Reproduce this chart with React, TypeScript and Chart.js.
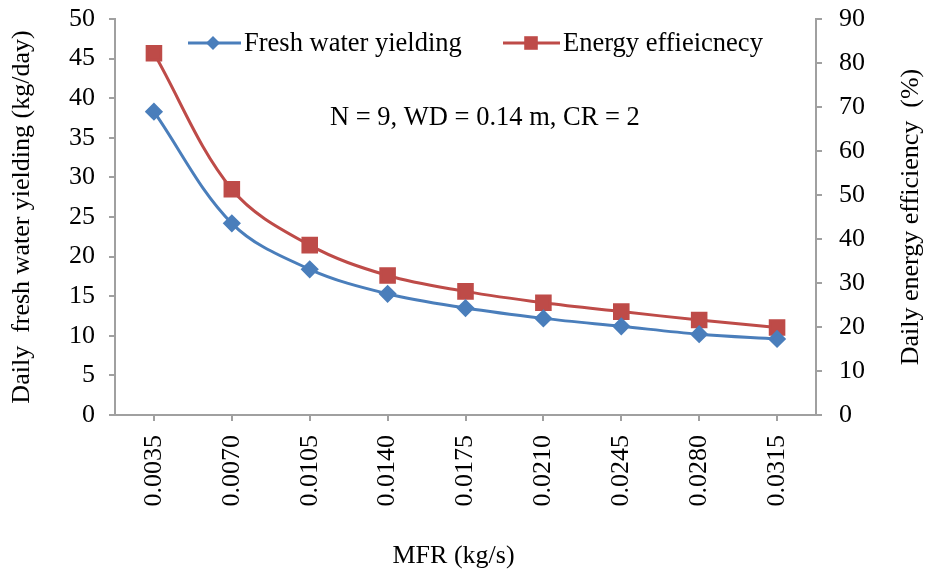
import React, { useEffect, useRef } from "react";
import { Chart, registerables } from "chart.js";

Chart.register(...registerables);

const categories = ["0.0035", "0.0070", "0.0105", "0.0140", "0.0175", "0.0210", "0.0245", "0.0280", "0.0315"];
const freshWater = [38.3, 24.2, 18.4, 15.3, 13.5, 12.2, 11.2, 10.2, 9.6];
const energyEff = [82.2, 51.3, 38.6, 31.7, 28.1, 25.5, 23.5, 21.6, 19.9];
const leftAxis = { min: 0, max: 50, step: 5 };
const rightAxis = { min: 0, max: 90, step: 10 };
const seriesNames = ["Fresh water yielding", "Energy effieicnecy"];
const annotationText = "N = 9, WD = 0.14 m, CR = 2";
const xTitle = "MFR (kg/s)";
const yLeftTitle = "Daily  fresh water yielding (kg/day)";
const yRightTitle = "Daily energy efficiency  (%)";

const FONT = "'Liberation Serif', 'Times New Roman', serif";
const BLUE = "#4a7ebb";
const RED = "#be4b48";
const AXIS = "#a0a0a0";

const W = 925;
const H = 573;

const overlayPlugin = {
  id: "overlay",
  afterDraw(chart: any) {
    const ctx = chart.ctx as CanvasRenderingContext2D;
    ctx.save();
    ctx.font = `26.5px ${FONT}`;
    ctx.fillStyle = "#000";
    ctx.textBaseline = "middle";
    ctx.textAlign = "left";
    const items = [
      { x0: 188, x1: 241, mx: 213, tx: 244, ds: chart.data.datasets[0] },
      { x0: 503, x1: 560, mx: 531, tx: 563, ds: chart.data.datasets[1] },
    ];
    const ly = 43;
    items.forEach((it) => {
      ctx.strokeStyle = it.ds.borderColor;
      ctx.lineWidth = 3;
      ctx.beginPath();
      ctx.moveTo(it.x0, ly);
      ctx.lineTo(it.x1, ly);
      ctx.stroke();
      ctx.fillStyle = it.ds.pointBackgroundColor;
      ctx.beginPath();
      if (it.ds.pointStyle === "rect") {
        const s = it.ds.pointRadius * Math.SQRT1_2;
        ctx.rect(it.mx - s, ly - s, 2 * s, 2 * s);
      } else {
        const r = it.ds.pointRadius;
        ctx.moveTo(it.mx, ly - r);
        ctx.lineTo(it.mx + r, ly);
        ctx.lineTo(it.mx, ly + r);
        ctx.lineTo(it.mx - r, ly);
        ctx.closePath();
      }
      ctx.fill();
      ctx.fillStyle = "#000";
      ctx.fillText(it.ds.label, it.tx, ly + 1);
    });
    ctx.fillText(annotationText, 330, 118);

    // x axis title
    ctx.font = `26px ${FONT}`;
    ctx.textAlign = "center";
    ctx.fillText(xTitle, 453.5, 556);

    // right axis title, reading bottom to top
    ctx.save();
    ctx.translate(911, 217);
    ctx.rotate(-Math.PI / 2);
    ctx.fillText(yRightTitle, 0, 0);
    ctx.restore();

    ctx.restore();
  },
};

export default function App() {
  const ref = useRef<HTMLCanvasElement>(null);
  useEffect(() => {
    if (!ref.current) return;
    const chart = new Chart(ref.current, {
      type: "line",
      data: {
        labels: categories,
        datasets: [
          {
            label: seriesNames[0],
            data: freshWater,
            yAxisID: "y",
            borderColor: BLUE,
            backgroundColor: BLUE,
            pointBackgroundColor: BLUE,
            pointBorderColor: BLUE,
            pointStyle: "rectRot",
            pointRadius: 7,
            borderWidth: 3,
            tension: 0.35,
          },
          {
            label: seriesNames[1],
            data: energyEff,
            yAxisID: "y1",
            borderColor: RED,
            backgroundColor: RED,
            pointBackgroundColor: RED,
            pointBorderColor: RED,
            pointStyle: "rect",
            pointRadius: 9.6,
            borderWidth: 3,
            tension: 0.35,
          },
        ] as any,
      },
      options: {
        animation: false,
        responsive: false,
        devicePixelRatio: 1,
        layout: { padding: { top: 19, left: 0, right: 0, bottom: 0 } },
        plugins: { legend: { display: false }, tooltip: { enabled: false } },
        scales: {
          x: {
            type: "category",
            offset: true,
            grid: { display: true, drawOnChartArea: false, drawTicks: true, tickLength: 6, color: AXIS, lineWidth: 2, offset: false },
            border: { display: true, color: AXIS, width: 2 },
            ticks: { color: "#000", font: { family: FONT, size: 26, lineHeight: 1 }, minRotation: 90, maxRotation: 90, padding: 14, autoSkip: false },
            title: { display: false, text: xTitle },
            afterFit: (s: any) => { s.height = 158; s.paddingLeft = 0; s.paddingRight = 0; },
          },
          y: {
            position: "left",
            min: leftAxis.min,
            max: leftAxis.max,
            grid: { drawOnChartArea: false, drawTicks: true, tickLength: 6, color: AXIS, lineWidth: 2 },
            border: { display: true, color: AXIS, width: 2 },
            ticks: { stepSize: leftAxis.step, color: "#000", font: { family: FONT, size: 26, lineHeight: 1 }, padding: 14 },
            title: { display: true, text: yLeftTitle, color: "#000", font: { family: FONT, size: 26, lineHeight: 1.1 }, padding: { top: 8, bottom: 0 } },
            afterFit: (s: any) => { s.width = 115; s.paddingTop = 0; s.paddingBottom = 0; },
          },
          y1: {
            position: "right",
            min: rightAxis.min,
            max: rightAxis.max,
            grid: { drawOnChartArea: false, drawTicks: true, tickLength: 6, color: AXIS, lineWidth: 2 },
            border: { display: true, color: AXIS, width: 2 },
            ticks: { stepSize: rightAxis.step, color: "#000", font: { family: FONT, size: 26, lineHeight: 1 }, padding: 17 },
            title: { display: false, text: yRightTitle },
            afterFit: (s: any) => { s.width = 109; s.paddingTop = 0; s.paddingBottom = 0; },
          },
        },
      } as any,
      plugins: [overlayPlugin],
    });
    return () => chart.destroy();
  }, []);
  return (
    <div style={{ position: "absolute", left: 0, top: 0, width: W, height: H }}>
      <canvas ref={ref} width={W} height={H} style={{ display: "block", width: W, height: H }} />
    </div>
  );
}
